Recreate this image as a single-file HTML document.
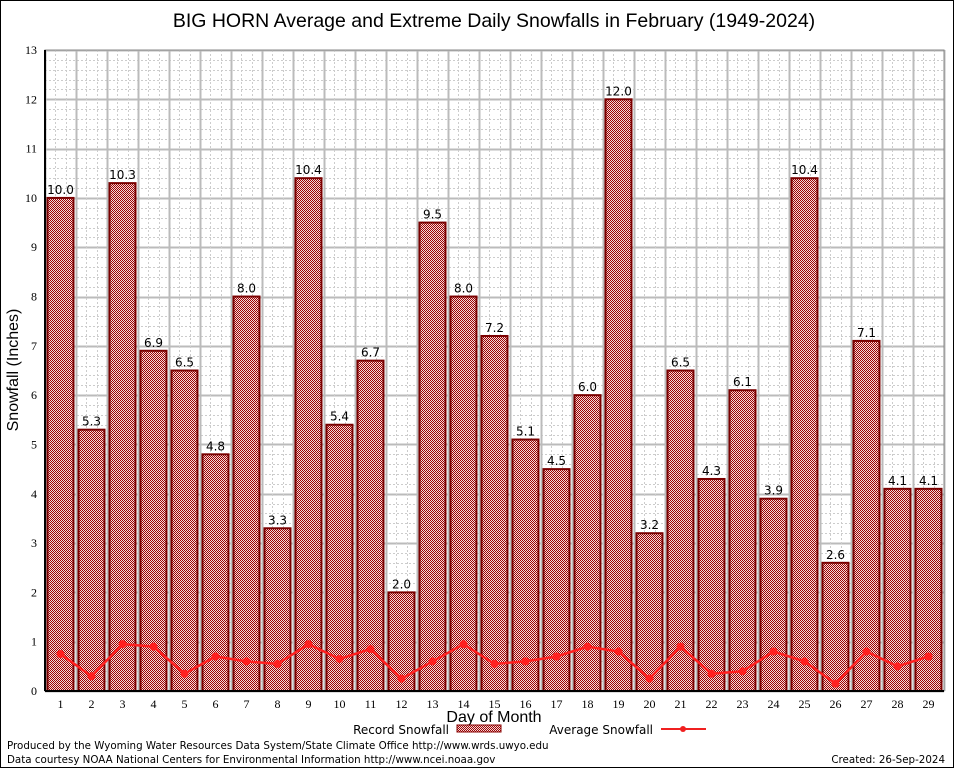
<!DOCTYPE html>
<html><head><meta charset="utf-8"><style>
body{margin:0;background:#fff;}
svg{display:block;font-family:"DejaVu Sans","Liberation Sans",sans-serif;}
</style></head><body>
<svg id="chart" width="954" height="768" xmlns="http://www.w3.org/2000/svg">
<defs>
<pattern id="chk" width="2" height="2" patternUnits="userSpaceOnUse">
<rect width="2" height="2" fill="#f0dcdc"/><rect width="1" height="1" fill="#a00000"/><rect x="1" y="1" width="1" height="1" fill="#a00000"/>
</pattern>
</defs>
<rect x="0.5" y="0.5" width="953" height="767" fill="#fff" stroke="#000"/>
<text x="494" y="27" font-size="19.5" text-anchor="middle" font-family="Liberation Sans, sans-serif">BIG HORN Average and Extreme Daily Snowfalls in February (1949-2024)</text>
<g id="grid"></g>
<g id="bars"></g>
<g id="avg"></g>
<g id="axes"></g>
<text x="18" y="370" font-size="16" text-anchor="middle" transform="rotate(-90 18 370)" font-family="Liberation Sans, sans-serif">Snowfall (Inches)</text>
<text x="494" y="722" font-size="16" text-anchor="middle" font-family="Liberation Sans, sans-serif">Day of Month</text>
<g>
<text x="449" y="734" font-size="12" text-anchor="end">Record Snowfall</text>
<rect x="457" y="725" width="44" height="7" fill="url(#chk)" stroke="#800"/>
<text x="653" y="734" font-size="12" text-anchor="end">Average Snowfall</text>
<line x1="661" y1="729" x2="706" y2="729" stroke="#f02020" stroke-width="2"/>
<circle cx="683" cy="729" r="3" fill="#f02020"/>
</g>
<text x="7" y="749" font-size="10.3">Produced by the Wyoming Water Resources Data System/State Climate Office http://www.wrds.uwyo.edu</text>
<text x="7" y="763" font-size="10.3">Data courtesy NOAA National Centers for Environmental Information http://www.ncei.noaa.gov</text>
<text x="945" y="763" font-size="10.3" text-anchor="end">Created:  26-Sep-2024</text>
</svg>
<script>
const days = [1,2,3,4,5,6,7,8,9,10,11,12,13,14,15,16,17,18,19,20,21,22,23,24,25,26,27,28,29];
const records = [10.0,5.3,10.3,6.9,6.5,4.8,8.0,3.3,10.4,5.4,6.7,2.0,9.5,8.0,7.2,5.1,4.5,6.0,12.0,3.2,6.5,4.3,6.1,3.9,10.4,2.6,7.1,4.1,4.1];
const averages = [0.75,0.3,0.95,0.9,0.35,0.7,0.6,0.55,0.95,0.65,0.85,0.25,0.6,0.95,0.55,0.6,0.7,0.9,0.8,0.25,0.9,0.35,0.4,0.8,0.6,0.15,0.8,0.5,0.7];
const yTicks = [0,1,2,3,4,5,6,7,8,9,10,11,12,13];
const NS="http://www.w3.org/2000/svg";
const L=45,R=944,T=50,B=691,YMAX=13;
const slot=(R-L)/days.length;
const y=v=>B-v/YMAX*(B-T);
const xc=i=>L+slot*(i+0.5);
function mk(tag,attrs,parent){const e=document.createElementNS(NS,tag);for(const k in attrs)e.setAttribute(k,attrs[k]);parent.appendChild(e);return e;}
const grid=document.getElementById('grid'),bars=document.getElementById('bars'),avg=document.getElementById('avg'),axes=document.getElementById('axes');
for(let v=0;v<=YMAX;v+=0.2){const yy=Math.round(y(v))+0.5;const major=Math.abs(v-Math.round(v))<1e-6;
 const ln=mk('line',{x1:L,x2:R,y1:yy,y2:yy,stroke:major?'#bbb':'#ccc','stroke-width':major?2:1,'stroke-dasharray':major?'':'2,2'},grid);
 
 }
for(let i=0;i<=days.length;i++){const xx=Math.round(L+slot*i)+0.5;
 const ln=mk('line',{x1:xx,x2:xx,y1:T,y2:B,stroke:'#bbb','stroke-width':2},grid);
 
 
 if(i<days.length){for(let k=1;k<3;k++){const xm=Math.round(L+slot*i+slot*k/3)+0.5;const l2=mk('line',{x1:xm,x2:xm,y1:T,y2:B,stroke:'#ccc','stroke-dasharray':'2,2'},grid);
 
 }}}
records.forEach((v,i)=>{const w=26,x0=xc(i)-w/2;
 const r=mk('rect',{x:x0,y:y(v),width:w,height:B-y(v),fill:'url(#chk)',stroke:'#7a0000','stroke-width':2},bars);
 
 
 const t=mk('text',{x:xc(i),y:y(v)-4,'font-size':12,'text-anchor':'middle'},bars);t.textContent=v.toFixed(1);
 
 });
const pl=mk('polyline',{points:averages.map((v,i)=>xc(i)+','+y(v)).join(' '),fill:'none',stroke:'#ff2020','stroke-width':2.5},avg);


averages.forEach((v,i)=>{const c=mk('circle',{cx:xc(i),cy:y(v),r:4,fill:'#ff2020'},avg);
 
 });
const fr=mk('rect',{x:L,y:T,width:R-L,height:B-T,fill:'none',stroke:'#888'},axes);


const ya=mk('line',{x1:L,x2:L,y1:T,y2:B,stroke:'#000','stroke-width':2},axes);


const xa=mk('line',{x1:L,x2:R,y1:B,y2:B,stroke:'#000','stroke-width':2},axes);


yTicks.forEach(v=>{const t=mk('text',{x:L-8,y:y(v)+4,'font-size':12,'text-anchor':'end','font-family':'Liberation Serif, serif'},axes);t.textContent=v;
 
 });
days.forEach((d,i)=>{const t=mk('text',{x:xc(i),y:B+17,'font-size':12,'text-anchor':'middle','font-family':'Liberation Serif, serif'},axes);t.textContent=d;
 
 });
</script>
</body></html>
